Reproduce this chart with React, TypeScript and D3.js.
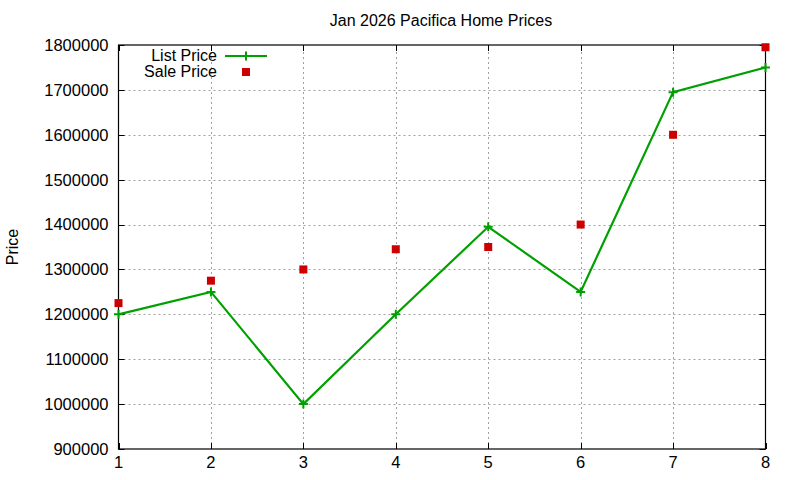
import React, { useEffect, useRef } from 'react';
import * as d3 from 'd3';

const months = [1, 2, 3, 4, 5, 6, 7, 8];
const listPrices = [1200000, 1250000, 1000000, 1200000, 1395000, 1250000, 1695000, 1750000];
const salePrices = [1225000, 1275000, 1300000, 1345000, 1350000, 1400000, 1600000, 1795000];
const yTicks = [900000, 1000000, 1100000, 1200000, 1300000, 1400000, 1500000, 1600000, 1700000, 1800000];

const WIDTH = 800;
const HEIGHT = 480;
const FONT = 'Liberation Sans, Arial, sans-serif';
const GREEN = '#00a000';
const RED = '#cc0000';

export default function App() {
  const svgRef = useRef<SVGSVGElement>(null);

  useEffect(() => {
    if (!svgRef.current) return;
    const svg = d3.select(svgRef.current);
    svg.selectAll('*').remove();

    const margin = { top: 45, right: 34.5, bottom: 31, left: 118.5 };
    const x = d3.scaleLinear().domain([1, 8]).range([margin.left, WIDTH - margin.right]);
    const y = d3.scaleLinear().domain([900000, 1800000]).range([HEIGHT - margin.bottom, margin.top]);
    const [x0, x1] = x.range();
    const [y0, y1] = y.range();

    svg.append('rect').attr('width', WIDTH).attr('height', HEIGHT).attr('fill', '#fff');

    // grid
    const grid = svg.append('g').attr('stroke', '#a0a0a0').attr('stroke-width', 1).attr('stroke-dasharray', '2,3');
    grid.selectAll('.gx')
      .data(months.slice(1, -1))
      .enter()
      .append('line')
      .attr('x1', (d) => Math.round(x(d)) + 0.5)
      .attr('x2', (d) => Math.round(x(d)) + 0.5)
      .attr('y1', y0)
      .attr('y2', y1);
    grid.selectAll('.gy')
      .data(yTicks.slice(1, -1))
      .enter()
      .append('line')
      .attr('x1', x0)
      .attr('x2', x1)
      .attr('y1', (d) => Math.round(y(d)) + 0.5)
      .attr('y2', (d) => Math.round(y(d)) + 0.5);

    // ticks (inward, mirrored)
    const ticks = svg.append('g').attr('stroke', '#000').attr('stroke-width', 1);
    months.forEach((m) => {
      const px = Math.round(x(m)) + 0.5;
      ticks.append('line').attr('x1', px).attr('x2', px).attr('y1', y0).attr('y2', y0 - 6);
      ticks.append('line').attr('x1', px).attr('x2', px).attr('y1', y1).attr('y2', y1 + 6);
    });
    yTicks.forEach((v) => {
      const py = Math.round(y(v)) + 0.5;
      ticks.append('line').attr('x1', x0).attr('x2', x0 + 6).attr('y1', py).attr('y2', py);
      ticks.append('line').attr('x1', x1).attr('x2', x1 - 6).attr('y1', py).attr('y2', py);
    });

    // frame
    svg.append('rect')
      .attr('x', x0)
      .attr('y', y1)
      .attr('width', x1 - x0)
      .attr('height', y0 - y1)
      .attr('fill', 'none')
      .attr('stroke', '#000')
      .attr('stroke-width', 1.2);

    // tick labels
    const labels = svg.append('g').attr('font-family', FONT).attr('font-size', 16.5).attr('fill', '#000');
    labels.selectAll('.yl')
      .data(yTicks)
      .enter()
      .append('text')
      .attr('x', x0 - 10)
      .attr('y', (d) => y(d))
      .attr('dy', '0.36em')
      .attr('text-anchor', 'end')
      .text((d) => String(d));
    labels.selectAll('.xl')
      .data(months)
      .enter()
      .append('text')
      .attr('x', (d) => x(d))
      .attr('y', y0 + 13)
      .attr('dy', '0.36em')
      .attr('text-anchor', 'middle')
      .text((d) => String(d));

    // title + axis label
    svg.append('text')
      .attr('x', 441)
      .attr('y', 20)
      .attr('dy', '0.36em')
      .attr('text-anchor', 'middle')
      .attr('font-family', FONT)
      .attr('font-size', 16)
      .text('Jan 2026 Pacifica Home Prices');
    svg.append('text')
      .attr('transform', `translate(12,${(y0 + y1) / 2}) rotate(-90)`)
      .attr('dy', '0.36em')
      .attr('text-anchor', 'middle')
      .attr('font-family', FONT)
      .attr('font-size', 16)
      .text('Price');

    // list price line
    const line = d3
      .line<number>()
      .x((_, i) => x(months[i]))
      .y((d) => y(d));
    svg.append('path')
      .datum(listPrices)
      .attr('d', line)
      .attr('fill', 'none')
      .attr('stroke', GREEN)
      .attr('stroke-width', 2.2);

    const plus = (g: d3.Selection<SVGGElement, unknown, null, undefined>, cx: number, cy: number) => {
      g.append('path')
        .attr('d', `M${cx - 4.5},${cy}H${cx + 4.5}M${cx},${cy - 4.5}V${cy + 4.5}`)
        .attr('stroke', GREEN)
        .attr('stroke-width', 2)
        .attr('fill', 'none');
    };
    const pts = svg.append('g');
    listPrices.forEach((v, i) => plus(pts, x(months[i]), y(v)));

    // sale price squares
    svg.append('g')
      .selectAll('rect')
      .data(salePrices)
      .enter()
      .append('rect')
      .attr('x', (d, i) => x(months[i]) - 4)
      .attr('y', (d) => y(d) - 4)
      .attr('width', 8)
      .attr('height', 8)
      .attr('fill', RED);

    // legend
    const legend = svg.append('g').attr('font-family', FONT).attr('font-size', 16);
    legend.append('text').attr('x', 217).attr('y', 55).attr('dy', '0.36em').attr('text-anchor', 'end').text('List Price');
    legend.append('text').attr('x', 217).attr('y', 71).attr('dy', '0.36em').attr('text-anchor', 'end').text('Sale Price');
    legend.append('line')
      .attr('x1', 225)
      .attr('x2', 267)
      .attr('y1', 56)
      .attr('y2', 56)
      .attr('stroke', GREEN)
      .attr('stroke-width', 2.2);
    plus(legend, 246, 56);
    legend.append('rect').attr('x', 242).attr('y', 68).attr('width', 8).attr('height', 8).attr('fill', RED);
  }, []);

  return (
    <svg
      ref={svgRef}
      width={WIDTH}
      height={HEIGHT}
      style={{ position: 'absolute', left: 0, top: 0, display: 'block' }}
    />
  );
}
